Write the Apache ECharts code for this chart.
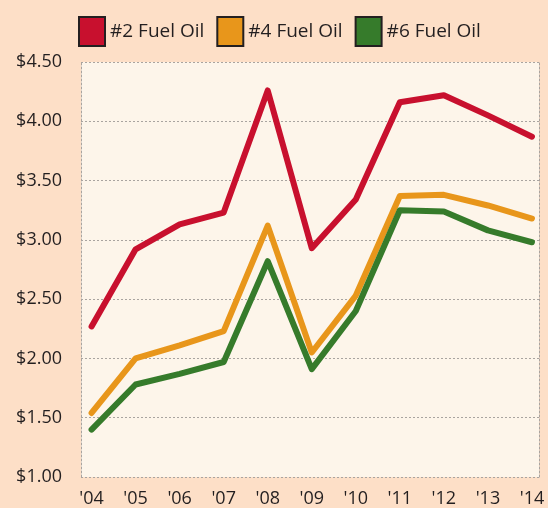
<!DOCTYPE html>
<html>
<head>
<meta charset="utf-8">
<script src="https://cdn.jsdelivr.net/npm/echarts@6/dist/echarts.min.js"></script>
<style>
  html, body { margin: 0; padding: 0; background: #fddfc7; }
  #chart { width: 548px; height: 508px; }
</style>
</head>
<body>
<div id="chart"></div>
<script>
var years = ["'04", "'05", "'06", "'07", "'08", "'09", "'10", "'11", "'12", "'13", "'14"]
var fuel2 = [2.27, 2.92, 3.13, 3.23, 4.26, 2.93, 3.34, 4.16, 4.22, 4.05, 3.87]
var fuel4 = [1.54, 2.00, 2.11, 2.23, 3.12, 2.05, 2.53, 3.37, 3.38, 3.29, 3.18]
var fuel6 = [1.40, 1.78, 1.87, 1.97, 2.82, 1.91, 2.40, 3.25, 3.24, 3.08, 2.98]

var textColor = '#231f20'
var gridColor = '#a9a4a0'

function toPoints (arr) {
  return arr.map(function (v, i) { return [i, v] })
}

function lineSeries (name, color, data) {
  return {
    name: name,
    type: 'line',
    data: toPoints(data),
    symbol: 'none',
    lineStyle: { color: color, width: 6, cap: 'round', join: 'round' },
    itemStyle: { color: color, borderColor: textColor, borderWidth: 3 },
    animation: false
  }
}

var chart = echarts.init(document.getElementById('chart'))
chart.setOption({
  backgroundColor: '#fddfc7',
  textStyle: { fontFamily: 'Open Sans' },
  legend: {
    top: 11,
    left: 73,
    icon: 'rect',
    itemWidth: 26,
    itemHeight: 29,
    itemGap: 12,
    textStyle: { color: textColor, fontSize: 19, fontFamily: 'Open Sans' },
    data: ['#2 Fuel Oil', '#4 Fuel Oil', '#6 Fuel Oil']
  },
  grid: {
    left: 81,
    right: 9,
    top: 62,
    bottom: 30,
    show: true,
    backgroundColor: '#fdf5ea',
    borderWidth: 0
  },
  xAxis: {
    type: 'value',
    min: -0.24,
    max: 10.16,
    axisLine: { show: false },
    axisTick: { show: false },
    splitLine: { show: false },
    axisLabel: {
      customValues: years.map(function (y, i) { return i }),
      formatter: function (v) { return years[Math.round(v)] },
      color: textColor,
      fontSize: 18,
      margin: 13
    }
  },
  yAxis: [{
    type: 'value',
    min: 1,
    max: 4.5,
    interval: 0.5,
    axisLine: { show: true, onZero: false, lineStyle: { color: gridColor, type: [2, 2], width: 1 } },
    axisTick: { show: false },
    splitLine: { show: true, lineStyle: { color: gridColor, type: [2, 2], width: 1 } },
    axisLabel: {
      formatter: function (v) { return '$' + v.toFixed(2) },
      color: textColor,
      fontSize: 18,
      margin: 19
    }
  }, {
    type: 'value',
    position: 'right',
    min: 1,
    max: 4.5,
    interval: 0.5,
    axisLine: { show: true, onZero: false, lineStyle: { color: gridColor, type: [2, 2], width: 1 } },
    axisTick: { show: false },
    splitLine: { show: false },
    axisLabel: { show: false }
  }],
  series: [
    lineSeries('#2 Fuel Oil', '#c8102e', fuel2),
    lineSeries('#4 Fuel Oil', '#e8961b', fuel4),
    lineSeries('#6 Fuel Oil', '#367b2b', fuel6)
  ]
})
</script>
</body>
</html>
